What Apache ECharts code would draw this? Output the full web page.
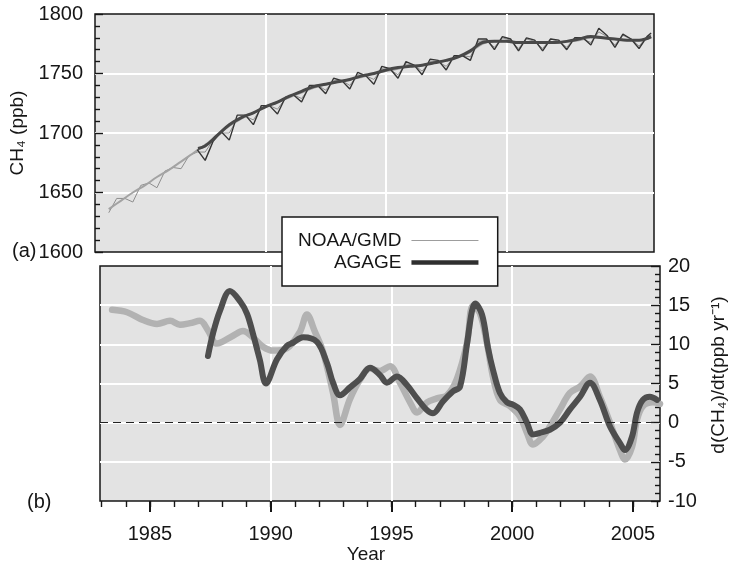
<!DOCTYPE html>
<html>
<head>
<meta charset="utf-8">
<style>
  html, body { margin: 0; padding: 0; background: #ffffff; }
  #chart { width: 730px; height: 565px; }
</style>
<script src="https://cdn.jsdelivr.net/npm/echarts@6/dist/echarts.min.js"></script>
</head>
<body>
<div id="chart"></div>
<script>
// ---- Panel (a): CH4 mole fraction (ppb) ----
const noaaMonthT = [1983.5, 1983.83,
  1984.17, 1984.5, 1984.83, 1985.17, 1985.5, 1985.83, 1986.17, 1986.5, 1986.83,
  1987.17, 1987.5, 1987.83, 1988.17, 1988.5, 1988.83, 1989.17, 1989.5, 1989.83,
  1990.17, 1990.5, 1990.83, 1991.17, 1991.5, 1991.83, 1992.17, 1992.5, 1992.83,
  1993.17, 1993.5, 1993.83, 1994.17, 1994.5, 1994.83, 1995.17, 1995.5, 1995.83,
  1996.17, 1996.5, 1996.83, 1997.17, 1997.5, 1997.83, 1998.17, 1998.5, 1998.83,
  1999.17, 1999.5, 1999.83, 2000.17, 2000.5, 2000.83, 2001.17, 2001.5, 2001.83,
  2002.17, 2002.5, 2002.83, 2003.17, 2003.5, 2003.83, 2004.17, 2004.5, 2004.83,
  2005.17, 2005.5, 2005.83, 2006.0];
const noaaMonthly = [1633, 1645,
  1645, 1642, 1656, 1658, 1654, 1668, 1671, 1670, 1681,
  1684, 1684, 1694, 1700, 1700, 1712, 1714, 1711, 1721,
  1723, 1720, 1729, 1732, 1729, 1738, 1740, 1736, 1744,
  1744, 1740, 1749, 1748, 1745, 1754, 1753, 1749, 1758,
  1757, 1752, 1760, 1760, 1756, 1764, 1765, 1764, 1777,
  1778, 1772, 1780, 1778, 1771, 1779, 1777, 1771, 1779,
  1777, 1772, 1780, 1779, 1776, 1785, 1781, 1774, 1782,
  1779, 1773, 1781, 1782];

const noaaTrendT = [1983.5, 1984, 1984.5, 1985, 1985.5, 1986, 1986.5, 1987, 1987.5,
  1988, 1988.5, 1989, 1989.5, 1990, 1990.5, 1991, 1991.5, 1992, 1992.5, 1993, 1993.5,
  1994, 1994.5, 1995, 1995.5, 1996, 1996.5, 1997, 1997.5, 1998, 1998.5, 1999, 1999.5,
  2000, 2000.5, 2001, 2001.5, 2002, 2002.5, 2003, 2003.5, 2004, 2004.5, 2005, 2005.5, 2006];
const noaaTrend = [1636, 1643, 1650, 1656, 1663, 1669, 1676, 1683, 1690,
  1698, 1706, 1712, 1717, 1722, 1726, 1730, 1734, 1738, 1741, 1743, 1745,
  1747, 1750, 1752, 1754, 1756, 1757, 1759, 1761, 1764, 1768, 1775, 1777,
  1777, 1776, 1776, 1776, 1776, 1777, 1778, 1780, 1780, 1779, 1778, 1778, 1780];

const agageMonthT = [1987.17, 1987.5, 1987.83, 1988.17, 1988.5, 1988.83,
  1989.17, 1989.5, 1989.83, 1990.17, 1990.5, 1990.83, 1991.17, 1991.5, 1991.83,
  1992.17, 1992.5, 1992.83, 1993.17, 1993.5, 1993.83, 1994.17, 1994.5, 1994.83,
  1995.17, 1995.5, 1995.83, 1996.17, 1996.5, 1996.83, 1997.17, 1997.5, 1997.83,
  1998.17, 1998.5, 1998.83, 1999.17, 1999.5, 1999.83, 2000.17, 2000.5, 2000.83,
  2001.17, 2001.5, 2001.83, 2002.17, 2002.5, 2002.83, 2003.17, 2003.5, 2003.83,
  2004.17, 2004.5, 2004.83, 2005.17, 2005.5, 2005.83, 2006.0];
const agageMonthly = [1686, 1677, 1693, 1701, 1694, 1715,
  1715, 1707, 1723, 1723, 1716, 1730, 1732, 1726, 1740,
  1740, 1733, 1746, 1744, 1737, 1751, 1748, 1741, 1756,
  1754, 1746, 1760, 1757, 1749, 1762, 1761, 1753, 1765,
  1765, 1761, 1779, 1779, 1770, 1781, 1779, 1769, 1780,
  1778, 1769, 1779, 1778, 1770, 1780, 1780, 1774, 1788,
  1782, 1772, 1783, 1779, 1771, 1781, 1784];

const agageTrendT = [1987.2, 1987.5, 1988, 1988.5, 1989, 1989.5, 1990, 1990.5, 1991,
  1991.5, 1992, 1992.5, 1993, 1993.5, 1994, 1994.5, 1995, 1995.5, 1996, 1996.5, 1997,
  1997.5, 1998, 1998.5, 1999, 1999.5, 2000, 2000.5, 2001, 2001.5, 2002, 2002.5, 2003,
  2003.5, 2004, 2004.5, 2005, 2005.5, 2006];
const agageTrend = [1687, 1689, 1698, 1707, 1713, 1717, 1722, 1726, 1731,
  1735, 1739, 1741, 1743, 1745, 1748, 1750, 1753, 1755, 1756, 1757, 1759,
  1761, 1764, 1769, 1776, 1777, 1777, 1776, 1776, 1776, 1776, 1777, 1779,
  1781, 1780, 1779, 1778, 1778, 1781];

// ---- Panel (b): growth rate d(CH4)/dt (ppb/yr) ----
const noaaRateT = [1983.43, 1984.05, 1984.71, 1985.29, 1985.83, 1986.24, 1986.66, 1987.07,
  1987.40, 1987.77, 1988.44, 1988.85, 1989.26, 1989.68, 1990.09, 1990.67, 1991.21, 1991.50,
  1991.83, 1992.16, 1992.58, 1992.87, 1993.28, 1993.70, 1994.11, 1994.52, 1994.94, 1995.35,
  1995.77, 1996.06, 1996.47, 1996.88, 1997.30, 1997.71, 1998.13, 1998.37, 1998.66, 1998.95,
  1999.20, 1999.49, 1999.91, 2000.32, 2000.61, 2000.86, 2001.27, 2001.56, 2001.98, 2002.39,
  2002.81, 2003.22, 2003.63, 2004.05, 2004.46, 2004.67, 2004.96, 2005.17, 2005.41, 2005.83, 2006.12];
const noaaRate = [14.4, 14.1, 13.1, 12.6, 13.0, 12.5, 12.7, 13.0,
  11.8, 10.1, 11.1, 11.7, 10.9, 9.7, 9.2, 9.5, 11.6, 13.8,
  11.6, 9.1, 3.8, -0.3, 3.0, 5.5, 6.9, 6.6, 7.2, 5.1,
  2.6, 1.3, 2.6, 3.1, 3.5, 5.6, 10.2, 14.9, 14.0, 10.2,
  5.9, 2.9, 2.1, 0.8, -1.3, -2.8, -1.8, -0.5, 1.7, 3.8,
  4.6, 5.9, 3.3, 0, -3.5, -4.7, -3.1, 0.4, 2.1, 2.6, 2.4];

const agageRateT = [1987.40, 1987.61, 1987.90, 1988.31, 1988.73, 1989.02, 1989.26, 1989.55,
  1989.80, 1990.26, 1990.67, 1990.92, 1991.34, 1991.92, 1992.33, 1992.58, 1992.87, 1993.28,
  1993.70, 1994.11, 1994.52, 1994.81, 1995.23, 1995.64, 1996.06, 1996.47, 1996.72, 1997.13,
  1997.55, 1997.84, 1998.13, 1998.33, 1998.46, 1998.75, 1999.00, 1999.20, 1999.49, 1999.78,
  2000.03, 2000.32, 2000.61, 2000.86, 2001.15, 2001.56, 2001.98, 2002.39, 2002.81, 2003.22,
  2003.63, 2004.05, 2004.46, 2004.67, 2004.96, 2005.17, 2005.41, 2005.70, 2006.00];
const agageRate = [8.5, 11.4, 14.3, 16.8, 15.5, 13.9, 11.4, 8.0,
  5.0, 8.1, 9.8, 10.2, 10.9, 10.3, 7.6, 5.1, 3.5, 4.5,
  5.6, 7.0, 6.1, 5.1, 5.9, 4.8, 3.1, 1.6, 1.2, 2.7,
  4.0, 4.6, 10.1, 14.2, 15.2, 13.8, 9.5, 6.8, 3.8, 2.6,
  2.3, 1.7, 0, -1.5, -1.3, -0.9, 0, 1.7, 3.3, 5.1,
  2.9, -0.5, -2.6, -3.5, -1.8, 1.3, 2.9, 3.3, 2.9];

// ---- Axis ticks ----
const yearMajor = [1985, 1990, 1995, 2000, 2005];
const yearMinor = [1983, 1984, 1985, 1986, 1987, 1988, 1989, 1990, 1991, 1992, 1993, 1994,
  1995, 1996, 1997, 1998, 1999, 2000, 2001, 2002, 2003, 2004, 2005, 2006];
const ch4Ticks = { min: 1600, max: 1800, step: 50 };
const rateTicks = { min: -10, max: 20, step: 5 };

const pairs = (t, v) => t.map((x, i) => [x, v[i]]);
const plain = v => String(v);

const FONT = '"Liberation Sans", Arial, Helvetica, sans-serif';
const INK = '#161616';
const PANEL_BG = '#e3e3e3';
const X_MIN = 1982.93, X_MAX = 2006.12;

// white grid lines inside the panels; the panel frame itself stays black
const whiteGrid = { show: true, showMinLine: false, showMaxLine: false,
  lineStyle: { color: '#ffffff', width: 2 } };
const tickLine = { color: INK, width: 1.4 };
const hiddenLine = { show: false, onZero: false };

const chart = echarts.init(document.getElementById('chart'), null, { renderer: 'canvas' });

chart.setOption({
  animation: false,
  backgroundColor: '#ffffff',
  textStyle: { fontFamily: FONT, color: INK },
  grid: [
    { left: 95, right: 76, top: 14, height: 238, show: true, outerBoundsMode: 'none',
      backgroundColor: PANEL_BG, borderColor: INK, borderWidth: 1.5 },
    { left: 100, right: 70, top: 266, height: 235, show: true, outerBoundsMode: 'none',
      backgroundColor: PANEL_BG, borderColor: INK, borderWidth: 1.5 }
  ],
  xAxis: [
    { gridIndex: 0, type: 'value', min: X_MIN, max: X_MAX,
      axisLine: hiddenLine,
      axisTick: { show: false, customValues: yearMajor },
      axisLabel: { show: false },
      splitLine: whiteGrid },
    { gridIndex: 1, type: 'value', position: 'bottom', min: X_MIN, max: X_MAX,
      axisLine: hiddenLine,
      axisTick: { show: true, customValues: yearMinor, length: 6, lineStyle: tickLine },
      axisLabel: { show: false },
      splitLine: { show: false } },
    { gridIndex: 1, type: 'value', position: 'bottom', min: X_MIN, max: X_MAX,
      axisLine: hiddenLine,
      axisTick: { show: true, customValues: yearMajor, length: 11, lineStyle: { color: INK, width: 2 } },
      axisLabel: { customValues: yearMajor, formatter: plain, fontSize: 20, color: INK,
        margin: 23, fontFamily: FONT },
      splitLine: whiteGrid,
      name: 'Year', nameLocation: 'middle', nameGap: 42,
      nameTextStyle: { fontSize: 19, color: INK, fontFamily: FONT, padding: [0, 28, 0, 0] } }
  ],
  yAxis: [
    { gridIndex: 0, type: 'value', min: ch4Ticks.min, max: ch4Ticks.max, interval: ch4Ticks.step,
      axisLine: hiddenLine,
      axisTick: { show: true, inside: true, length: 8, lineStyle: tickLine },
      minorTick: { show: true, splitNumber: 5, length: 5, lineStyle: tickLine },
      axisLabel: { formatter: plain, fontSize: 20, color: INK, margin: 12, fontFamily: FONT },
      splitLine: whiteGrid,
      name: 'CH\u2084 (ppb)', nameLocation: 'middle', nameGap: 63, nameRotate: 90,
      nameTextStyle: { fontSize: 19, color: INK, fontFamily: FONT } },
    { gridIndex: 1, type: 'value', position: 'right',
      min: rateTicks.min, max: rateTicks.max, interval: rateTicks.step,
      axisLine: hiddenLine,
      axisTick: { show: true, inside: true, length: 9, lineStyle: tickLine },
      minorTick: { show: true, splitNumber: 5, length: 5, lineStyle: tickLine },
      axisLabel: { formatter: plain, fontSize: 20, color: INK, margin: 8, fontFamily: FONT },
      splitLine: whiteGrid,
      name: 'd(CH\u2084)/dt(ppb yr\u207B\u00B9)', nameLocation: 'middle', nameGap: 49, nameRotate: 90,
      nameTextStyle: { fontSize: 19, color: INK, fontFamily: FONT, padding: [0, 0, 0, 17] } }
  ],
  legend: {
    data: [
      { name: 'NOAA/GMD', lineStyle: { width: 1.2, color: '#9d9d9d' }, itemStyle: { opacity: 0 } },
      { name: 'AGAGE', lineStyle: { width: 4.5, color: '#2f2f2f' }, itemStyle: { opacity: 0 } }
    ],
    orient: 'vertical', align: 'right',
    left: 282, top: 217,
    itemWidth: 67, itemHeight: 14, itemGap: 3,
    padding: [14, 17, 14, 16],
    backgroundColor: '#ffffff', borderColor: INK, borderWidth: 1.5, borderRadius: 0,
    textStyle: { fontSize: 19, color: INK, fontFamily: FONT, padding: [0, 5, 0, 0] },
    selectedMode: false,
    z: 10
  },
  graphic: [
    { type: 'text', left: 12, top: 241, z: 10,
      style: { text: '(a)', font: '20px ' + FONT, fill: INK } },
    { type: 'text', left: 27, top: 492, z: 10,
      style: { text: '(b)', font: '20px ' + FONT, fill: INK } }
  ],
  series: [
    { name: 'NOAA/GMD', type: 'line', xAxisIndex: 0, yAxisIndex: 0,
      data: pairs(noaaMonthT, noaaMonthly), symbol: 'none', z: 2,
      lineStyle: { width: 1, color: '#8e8e8e' }, itemStyle: { color: '#9d9d9d' } },
    { name: 'NOAA/GMD', type: 'line', xAxisIndex: 0, yAxisIndex: 0,
      data: pairs(noaaTrendT, noaaTrend), symbol: 'none', smooth: 0.4, z: 2,
      lineStyle: { width: 2, color: '#a3a3a3' }, itemStyle: { color: '#9d9d9d' } },
    { name: 'AGAGE', type: 'line', xAxisIndex: 0, yAxisIndex: 0,
      data: pairs(agageMonthT, agageMonthly), symbol: 'none', z: 3,
      lineStyle: { width: 1.4, color: '#353535' }, itemStyle: { color: '#2f2f2f' } },
    { name: 'AGAGE', type: 'line', xAxisIndex: 0, yAxisIndex: 0,
      data: pairs(agageTrendT, agageTrend), symbol: 'none', smooth: 0.4, z: 3,
      lineStyle: { width: 3, color: '#484848' }, itemStyle: { color: '#2f2f2f' } },
    { name: 'NOAA/GMD', type: 'line', xAxisIndex: 2, yAxisIndex: 1,
      data: pairs(noaaRateT, noaaRate), symbol: 'none', smooth: 0.35, z: 2,
      lineStyle: { width: 6.5, color: '#b2b2b2', cap: 'round', join: 'round' },
      itemStyle: { color: '#9d9d9d' } },
    { name: 'AGAGE', type: 'line', xAxisIndex: 2, yAxisIndex: 1,
      data: pairs(agageRateT, agageRate), symbol: 'none', smooth: 0.35, z: 3,
      lineStyle: { width: 6, color: '#4e4e4e', cap: 'round', join: 'round' },
      itemStyle: { color: '#2f2f2f' },
      markLine: {
        silent: true, symbol: 'none', label: { show: false },
        lineStyle: { color: '#222222', width: 1.2, type: [8, 5] },
        data: [{ yAxis: 0 }]
      } }
  ]
});
</script>
</body>
</html>
